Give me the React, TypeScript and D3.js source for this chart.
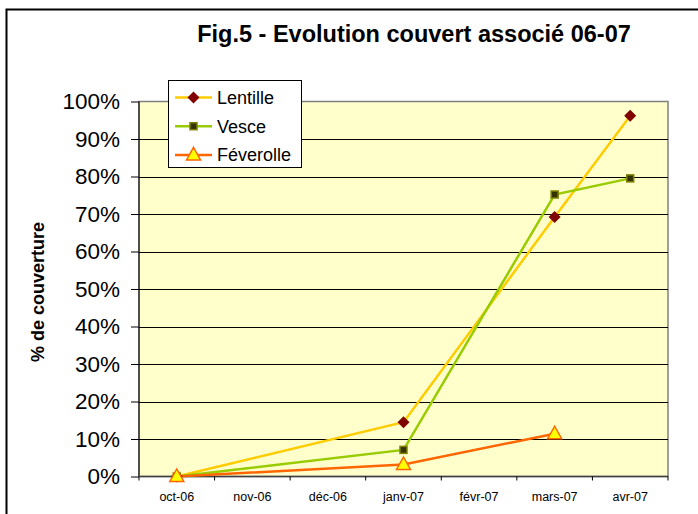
import * as React from "react";
import * as d3 from "d3";

const months: string[] = ["oct-06", "nov-06", "déc-06", "janv-07", "févr-07", "mars-07", "avr-07"];
const yTicks: number[] = [0, 0.1, 0.2, 0.3, 0.4, 0.5, 0.6, 0.7, 0.8, 0.9, 1];

// null = pas de mesure ce mois-là
const lentille: (number | null)[] = [0, null, null, 0.145, null, 0.692, 0.962];
const vesce: (number | null)[] = [0, null, null, 0.071, null, 0.752, 0.795];
const feverolle: (number | null)[] = [0, null, null, 0.032, null, 0.114, null];

interface Serie {
    name: string;
    values: (number | null)[];
    line: string;
    marker: "diamond" | "square" | "triangle";
}

const series: Serie[] = [
    { name: "Lentille", values: lentille, line: "#FFCC00", marker: "diamond" },
    { name: "Vesce", values: vesce, line: "#99CC00", marker: "square" },
    { name: "Féverolle", values: feverolle, line: "#FF6600", marker: "triangle" }
];

const W = 698;
const H = 514;
const margin = { top: 101.5, right: 30, bottom: 37.5, left: 139 };
const font = "Arial, 'Liberation Sans', sans-serif";

function drawMarker(g: d3.Selection<SVGGElement, unknown, null, undefined>, kind: string, x: number, y: number): void {
    if (kind === "diamond") {
        g.append("path")
            .attr("d", `M${x},${y - 6}L${x + 6},${y}L${x},${y + 6}L${x - 6},${y}Z`)
            .attr("fill", "#800000");
    } else if (kind === "square") {
        g.append("rect")
            .attr("x", x - 3.5).attr("y", y - 3.5)
            .attr("width", 7).attr("height", 7)
            .attr("fill", "#333300")
            .attr("stroke", "#808000")
            .attr("stroke-width", 1.5);
    } else {
        g.append("path")
            .attr("d", `M${x},${y - 7.5}L${x + 7},${y + 5}L${x - 7},${y + 5}Z`)
            .attr("fill", "#FFFF00")
            .attr("stroke", "#FF6600")
            .attr("stroke-width", 1.5);
    }
}

export default function App(): JSX.Element {
    const ref = React.useRef<SVGSVGElement>(null);

    React.useEffect(() => {
        const svg = d3.select(ref.current);
        svg.selectAll("*").remove();

        const innerW = W - margin.left - margin.right;
        const x = d3.scaleBand<string>().domain(months).range([margin.left, margin.left + innerW]).padding(0);
        const y = d3.scaleLinear().domain([0, 1]).range([H - margin.bottom, margin.top]);

        // cadre extérieur
        svg.append("rect")
            .attr("x", 6.5).attr("y", 9.5)
            .attr("width", W + 20).attr("height", H + 20)
            .attr("fill", "white")
            .attr("stroke", "black")
            .attr("stroke-width", 2);

        svg.append("text")
            .attr("x", 414).attr("y", 42)
            .attr("text-anchor", "middle")
            .attr("font-family", font)
            .attr("font-weight", "bold")
            .attr("font-size", 23.5)
            .text("Fig.5 - Evolution couvert associé 06-07");

        // zone de tracé
        svg.append("rect")
            .attr("x", margin.left).attr("y", margin.top)
            .attr("width", innerW).attr("height", y(0) - margin.top)
            .attr("fill", "#FFFFCC")
            .attr("stroke", "#808080")
            .attr("stroke-width", 1.5);

        const yAxis = svg.append("g")
            .attr("transform", `translate(${margin.left},0)`)
            .call(d3.axisLeft(y).tickValues(yTicks).tickSize(8).tickFormat(d3.format(".0%")));
        yAxis.select(".domain").remove();
        yAxis.selectAll(".tick line").attr("stroke", "black");
        yAxis.selectAll(".tick text")
            .attr("x", -19)
            .attr("font-family", font)
            .attr("font-size", 22.5)
            .attr("fill", "black");

        svg.append("g").selectAll("line")
            .data(yTicks.slice(1, -1)).enter().append("line")
            .attr("x1", margin.left).attr("x2", margin.left + innerW)
            .attr("y1", (d: number) => Math.round(y(d)) + 0.5)
            .attr("y2", (d: number) => Math.round(y(d)) + 0.5)
            .attr("stroke", "black")
            .attr("stroke-width", 1);

        svg.append("line")
            .attr("x1", margin.left).attr("x2", margin.left)
            .attr("y1", margin.top).attr("y2", y(0) + 4)
            .attr("stroke", "black");

        // axe des x : graduations entre les catégories
        const xG = svg.append("g");
        xG.append("line")
            .attr("x1", margin.left).attr("x2", margin.left + innerW)
            .attr("y1", y(0)).attr("y2", y(0))
            .attr("stroke", "#404040").attr("stroke-width", 1.5);
        xG.selectAll(".tk")
            .data(months.slice(1).concat(["end"])).enter().append("line")
            .attr("x1", (d: string, i: number) => margin.left + (i + 1) * x.bandwidth())
            .attr("x2", (d: string, i: number) => margin.left + (i + 1) * x.bandwidth())
            .attr("y1", y(0)).attr("y2", y(0) + 4)
            .attr("stroke", "black");
        xG.selectAll("text")
            .data(months).enter().append("text")
            .attr("x", (d: string) => (x(d) as number) + x.bandwidth() / 2)
            .attr("y", 501)
            .attr("text-anchor", "middle")
            .attr("font-family", font)
            .attr("font-size", 12.5)
            .text((d: string) => d);

        svg.append("text")
            .attr("transform", `translate(44,292) rotate(-90)`)
            .attr("text-anchor", "middle")
            .attr("font-family", font)
            .attr("font-weight", "bold")
            .attr("font-size", 18)
            .text("% de couverture");

        const cx = (i: number): number => (x(months[i]) as number) + x.bandwidth() / 2;
        const line = d3.line<[number, number]>().x((p) => cx(p[0])).y((p) => y(p[1]));

        series.forEach((s: Serie) => {
            const pts: [number, number][] = [];
            s.values.forEach((v, i) => { if (v !== null) pts.push([i, v]); });
            svg.append("path")
                .datum(pts)
                .attr("d", line)
                .attr("fill", "none")
                .attr("stroke", s.line)
                .attr("stroke-width", 2.5);
        });
        series.forEach((s: Serie) => {
            const g = svg.append("g") as d3.Selection<SVGGElement, unknown, null, undefined>;
            s.values.forEach((v, i) => { if (v !== null) drawMarker(g, s.marker, cx(i), y(v)); });
        });

        // légende
        const lg = svg.append("g");
        lg.append("rect")
            .attr("x", 168.5).attr("y", 80.5)
            .attr("width", 133).attr("height", 87)
            .attr("fill", "white")
            .attr("stroke", "black");
        series.forEach((s: Serie, i: number) => {
            const ly = 97.5 + i * 28.7;
            lg.append("line")
                .attr("x1", 175).attr("x2", 212)
                .attr("y1", ly).attr("y2", ly)
                .attr("stroke", s.line).attr("stroke-width", 2.5);
            drawMarker(lg as d3.Selection<SVGGElement, unknown, null, undefined>, s.marker, 193.5, ly);
            lg.append("text")
                .attr("x", 217).attr("y", ly + 6.5)
                .attr("font-family", font)
                .attr("font-size", 18)
                .text(s.name);
        });
    }, []);

    return <svg ref={ref} width={W} height={H} style={{ position: "absolute", left: 0, top: 0 }} />;
}
